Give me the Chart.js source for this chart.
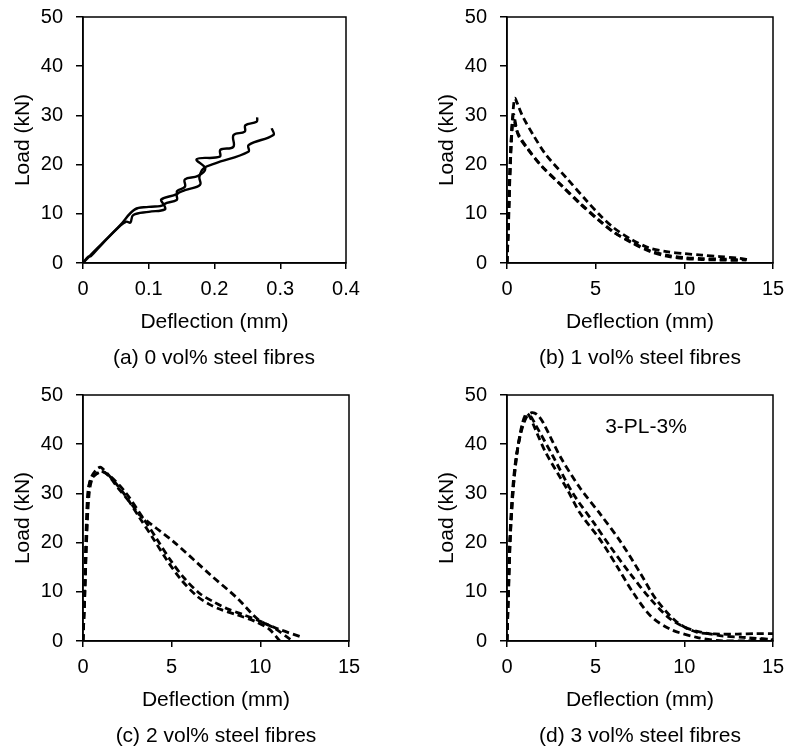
<!DOCTYPE html>
<html>
<head>
<meta charset="utf-8">
<script src="https://cdn.jsdelivr.net/npm/chart.js@4.4.0/dist/chart.umd.min.js"></script>
<style>
  body { margin: 0; background: #fff; width: 788px; height: 749px; position: relative; overflow: hidden;
         font-family: "Liberation Sans", Arial, sans-serif; }
  .panel { position: absolute; width: 364px; height: 371px; }
  .cap { position: absolute; width: 266px; font-size: 21px; line-height: 24px; text-align: center; color: #000; }
</style>
</head>
<body>
<div class="panel" style="left:0;top:0"><canvas id="chartA"></canvas></div>
<div class="panel" style="left:424px;top:0"><canvas id="chartB"></canvas></div>
<div class="panel" style="left:0;top:378px"><canvas id="chartC"></canvas></div>
<div class="panel" style="left:424px;top:378px"><canvas id="chartD"></canvas></div>
<div class="cap" style="left:81px;top:345px">(a) 0 vol% steel fibres</div>
<div class="cap" style="left:507px;top:345px">(b) 1 vol% steel fibres</div>
<div class="cap" style="left:83px;top:723px">(c) 2 vol% steel fibres</div>
<div class="cap" style="left:507px;top:723px">(d) 3 vol% steel fibres</div>
<script>
// (a) 0 vol% : [deflection mm, load kN]
const a1 = [[0,0],[0.01,1.4],[0.03,4.1],[0.056,7.6],[0.079,10.9],[0.1,11.4],[0.122,11.8],[0.119,12.9],[0.1425,14.0],
  [0.143,14.6],[0.155,15.5],[0.155,17.0],[0.175,17.7],[0.186,19.2],[0.173,21.1],[0.208,21.6],[0.209,23.0],
  [0.2286,23.6],[0.229,26.0],[0.246,26.7],[0.247,28.0],[0.264,28.7],[0.265,29.6]];
const a2 = [[0,0],[0.008,1.3],[0.012,1.4],[0.03,4.0],[0.056,7.5],[0.066,8.4],[0.072,8.2],[0.0765,9.75],[0.1,10.4],
  [0.1247,10.9],[0.124,12.0],[0.1425,12.8],[0.143,14.0],[0.155,14.8],[0.178,15.9],[0.177,17.5],[0.183,19.2],
  [0.2,20.2],[0.2515,22.6],[0.252,24.0],[0.2895,26.0],[0.287,27.4]];

// (b) 1 vol%
const b1 = [[0,0],[0.05,5],[0.12,14],[0.2,22],[0.3,29],[0.4,33],[0.45,33.5],[0.65,31.8],[0.9,29.7],[1.5,25.9],
  [2.2,22],[3.4,17.1],[4.5,12.6],[5.3,9.5],[6.0,7.2],[7.0,4.8],[8.0,3.1],[9.0,2.3],[10,1.9],[11,1.6],[12,1.3],[13,1.0],[13.6,0.7]];
const b2 = [[0,0],[0.06,6],[0.14,16],[0.22,24],[0.3,28.5],[0.37,30.2],[0.45,29],[0.6,26.5],[1.1,23.6],[1.9,19.9],
  [3.0,16.0],[4.1,12.1],[5.2,8.6],[6.0,6.3],[7.0,4.3],[8.0,2.6],[9.0,1.6],[10,1.1],[11,0.9],[12,0.8],[13,0.7],[13.5,0.6]];
const b3 = [[0,0],[0.08,7],[0.16,17],[0.24,24],[0.32,28.5],[0.4,29],[0.5,27.5],[0.7,25.5],[1.2,23.0],[2.0,19.5],
  [3.1,15.7],[4.2,11.9],[5.2,8.7],[6.1,6.1],[7.1,4.0],[8.1,2.3],[9.0,1.4],[10,0.9],[11,0.7],[12,0.6],[13.2,0.5]];

// (c) 2 vol%
const c1 = [[0,0],[0.1,12],[0.2,25],[0.3,31],[0.5,33.5],[0.8,35],[1.0,35.3],[1.5,33.5],[2.3,30],[3.2,25],[4,20.6],
  [4.7,16.6],[5.5,12.6],[6.4,9.2],[7.1,7.5],[7.7,6.5],[8.7,5.3],[9.7,4.0],[10.5,2.4],[11.1,0]];
const c2 = [[0,0],[0.1,10],[0.2,22],[0.3,30],[0.4,32.5],[0.6,33.5],[1.0,34.5],[1.5,33.6],[2.4,30.2],[3.35,25.2],
  [4.15,20.8],[4.9,16.6],[5.7,12.8],[6.6,9.6],[7.4,7.9],[8.1,6.6],[9,5.4],[10,4.0],[10.8,2.6],[11.7,0.3]];
const c3 = [[0,0],[0.1,9],[0.2,20],[0.35,30],[0.6,33.5],[1.2,34.3],[2,31],[2.8,27.5],[3.2,25.6],[5.1,20.2],[7.2,13.4],
  [8.7,8.7],[9.9,4.3],[10.9,2.6],[12.4,0.7]];

// (d) 3 vol%
const d1 = [[0,0],[0.05,8],[0.15,20],[0.3,30],[0.5,37],[0.8,42.5],[1.1,45.5],[1.4,46.4],[1.7,46],[2.05,44.3],[3.0,37.5],
  [4.1,31.2],[5.3,25.6],[6.4,20.2],[7.5,13.9],[8.4,8.5],[9.6,3.8],[10.7,1.8],[12,1.4],[13,1.4],[14,1.5],[15,1.5]];
const d2 = [[0,0],[0.07,9],[0.18,21],[0.35,31],[0.55,38],[0.8,42.8],[1.05,45.5],[1.3,45.8],[1.6,44],[2.6,37.5],
  [3.7,30.1],[4.9,24],[5.8,19.3],[6.9,13.9],[8.1,8.5],[9.2,4.5],[10.3,2.4],[12,1.1],[13.5,0.7],[15,0.3]];
const d3 = [[0,0],[0.09,10],[0.2,22],[0.38,32],[0.6,39],[0.85,44],[1.1,46.3],[1.3,45.5],[1.6,43],[2.2,38.2],
  [3.4,30.8],[4.1,26.1],[5.25,20.6],[6.2,15.2],[7.1,9.9],[8.1,5.1],[9.2,2.4],[10.7,0.75],[12.2,0],[13.5,0],[14.3,0.4],[15,0.2]];

const noteD = { text: '3-PL-3%', x: 7.84, y: 43.5 };

const FONT = '"Liberation Sans", Arial, sans-serif';

// 枠線（プロット領域を囲む）と注記
const frameBox = {
  id: 'frameBox',
  afterDatasetsDraw(chart) {
    const { ctx, chartArea: a } = chart;
    ctx.save();
    ctx.strokeStyle = '#000';
    ctx.lineWidth = 1.5;
    ctx.strokeRect(a.left, a.top, a.right - a.left, a.bottom - a.top);
    const note = chart.options.plugins.note;
    if (note && note.text) {
      ctx.fillStyle = '#000';
      ctx.font = '21px ' + FONT;
      ctx.textAlign = 'center';
      ctx.textBaseline = 'middle';
      ctx.fillText(note.text, chart.scales.x.getPixelForValue(note.x), chart.scales.y.getPixelForValue(note.y));
    }
    ctx.restore();
  }
};

function makeChart(id, xMax, xStep, series, dashed, padRight, note) {
  const datasets = series.map(s => ({
    data: s.map(p => ({ x: p[0], y: p[1] })),
    borderColor: '#000',
    borderWidth: dashed ? 2.8 : 2.4,
    borderDash: dashed ? [7, 4] : [],
    pointRadius: 0,
    tension: dashed ? 0.3 : 0.4,
    fill: false
  }));
  return new Chart(document.getElementById(id), {
    type: 'line',
    data: { datasets },
    options: {
      responsive: true,
      maintainAspectRatio: false,
      animation: false,
      layout: { padding: { top: 17, right: padRight, left: 0, bottom: 0 } },
      plugins: { legend: { display: false }, tooltip: { enabled: false }, note: note || {} },
      scales: {
        x: {
          type: 'linear', min: 0, max: xMax,
          ticks: { stepSize: xStep, color: '#000', font: { size: 20, family: FONT }, padding: 8, maxRotation: 0 },
          grid: { drawOnChartArea: false, tickLength: 6, color: '#000', lineWidth: 1.5 },
          border: { color: '#000', width: 1.5 },
          title: { display: true, text: 'Deflection (mm)', color: '#000', font: { size: 21, family: FONT }, padding: { top: 0, bottom: 36 } },
          afterFit(s) { s.height = 108; s.paddingLeft = 0; s.paddingRight = 0; }
        },
        y: {
          min: 0, max: 50,
          ticks: { stepSize: 10, color: '#000', font: { size: 20, family: FONT }, padding: 13 },
          grid: { drawOnChartArea: false, tickLength: 7, color: '#000', lineWidth: 1.5 },
          border: { color: '#000', width: 1.5 },
          title: { display: true, text: 'Load (kN)', color: '#000', font: { size: 21, family: FONT }, padding: { top: 11, bottom: 0 } },
          afterFit(s) { s.width = 83; s.paddingTop = 0; s.paddingBottom = 0; }
        }
      }
    },
    plugins: [frameBox]
  });
}

makeChart('chartA', 0.4, 0.1, [a1, a2], false, 18);
makeChart('chartB', 15, 5, [b1, b2, b3], true, 15);
makeChart('chartC', 15, 5, [c1, c2, c3], true, 15);
makeChart('chartD', 15, 5, [d1, d2, d3], true, 15, noteD);
</script>
</body>
</html>
